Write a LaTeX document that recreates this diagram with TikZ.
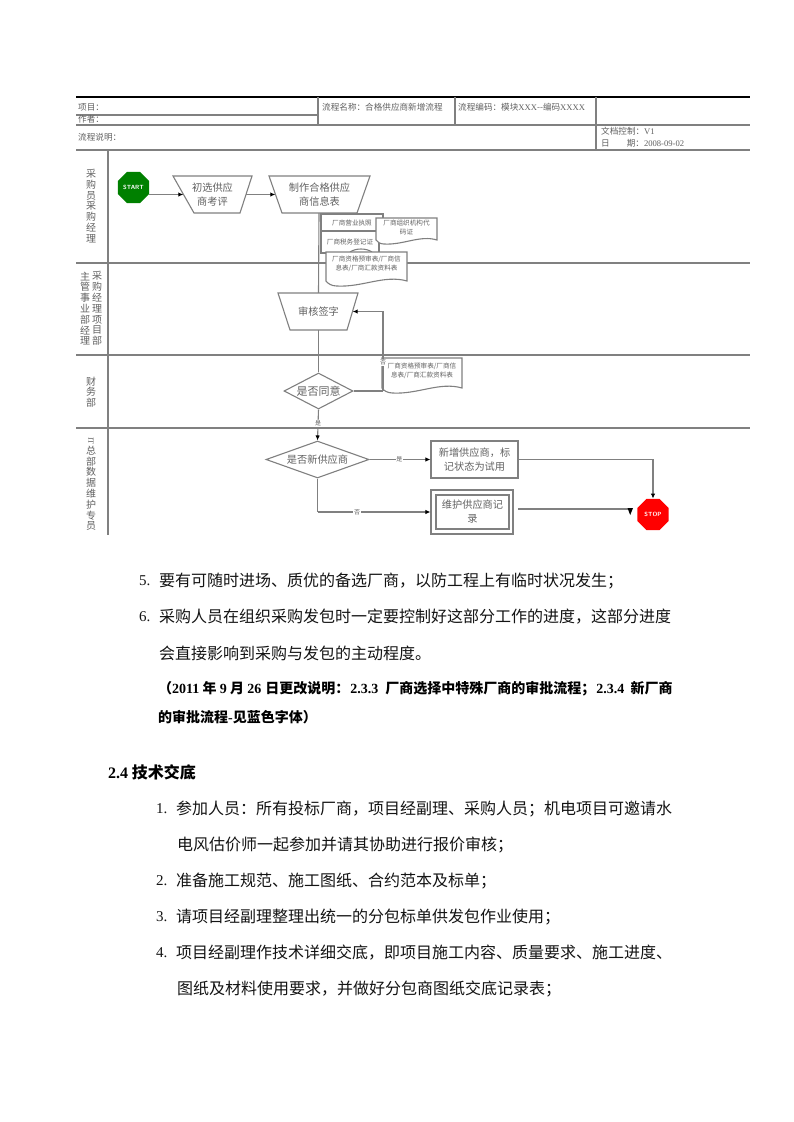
\documentclass[tikz,border=0pt]{standalone}
\usepackage{fontspec}
\setmainfont{Liberation Serif}
\newfontfamily\cjk{Noto Sans CJK SC}
\usetikzlibrary{shapes.geometric,arrows.meta}
\definecolor{ln}{gray}{0.5}
\definecolor{tx}{gray}{0.38}
\definecolor{bodytx}{gray}{0.08}
\definecolor{startgreen}{RGB}{0,128,0}
\newcommand{\fs}[1]{\fontsize{#1}{#1}\selectfont}
\newcommand{\vsl}{\raisebox{7.5pt}[0pt][0pt]{\fs{5}\rotatebox{-90}{/}}\\[-10.8pt]}
\newcommand{\wave}[5]{% x1 x2 ytop ybase dip
  \draw[shp] (#1,#3) -- (#2,#3) -- (#2,#4)
    .. controls ({#1+0.72*(#2-#1)},{#4-1.3*#5}) and ({#1+0.45*(#2-#1)},{#4+1.3*#5}) .. ({#1+0.13*(#2-#1)},{#4+#5})
    .. controls ({#1+0.07*(#2-#1)},{#4+#5}) and ({#1+0.02*(#2-#1)},{#4+0.5*#5}) .. (#1,#4) -- cycle;}
\tikzset{
  x=1pt,y=-1pt,
  rule/.style={draw=ln,line width=1.2pt},
  shp/.style={draw=ln,line width=1.1pt,fill=white},
  con/.style={draw=ln,line width=1.1pt},
  arr/.style={con,-{Latex[length=5pt,width=4.5pt,black]}},
  lab/.style={inner sep=0pt,text=tx,align=center,font=\cjk\fontsize{10.2}{14}\selectfont},
  doclab/.style={inner sep=0pt,text=tx,align=center,font=\cjk\fontsize{6.6}{8.8}\selectfont},
  hdr/.style={inner sep=0pt,anchor=west,text=tx,font=\cjk\fs{8.6}},
  edge/.style={inner sep=0.6pt,fill=white,text=tx,font=\cjk\fs{6}},
  stack/.style={inner sep=0pt,text=tx,align=center,font=\cjk\fontsize{10}{10.8}\selectfont},
  body/.style={inner sep=0pt,anchor=west,text=bodytx,font=\cjk\fs{16}},
  note/.style={inner sep=0pt,anchor=west,text=black,font=\cjk\bfseries\fs{14}},
  head/.style={inner sep=0pt,anchor=west,text=black,font=\cjk\bfseries\fs{16}},
  num/.style={inner sep=0pt,anchor=west,text=bodytx,font=\fs{15}},
  octo/.style={regular polygon,regular polygon sides=8,minimum size=34pt,inner sep=0pt,draw=none,text=white,font=\sffamily\bfseries\fs{6}},
}
\begin{document}
\begin{tikzpicture}
\useasboundingbox (0,0) rectangle (793,1122);
\fill[white] (0,0) rectangle (793,1122);
% frame
\draw[draw=black,line width=1.8pt] (76,97) -- (750,97);
\draw[rule] (76,125) -- (750,125);
\draw[rule] (76,115) -- (318,115);
\draw[rule] (318,97) -- (318,125);
\draw[rule] (455,97) -- (455,125);
\draw[rule] (596,97) -- (596,150);
\draw[rule] (76,150) -- (750,150);
\draw[rule] (108,150) -- (108,535);
\draw[rule] (76,263) -- (750,263);
\draw[rule] (76,355) -- (750,355);
\draw[rule] (76,428) -- (750,428);
% header text
\node[hdr] (h1) at (78,107) {项目：};
\node[hdr] (h2) at (78,119.5) {作者：};
\node[hdr] (h3) at (322,107) {流程名称：合格供应商新增流程};
\node[hdr] (h4) at (458,107) {流程编码：模块{\rmfamily XXX}--编码{\rmfamily XXXX}};
\node[hdr] (h5) at (78,137) {流程说明：};
\node[hdr] (h6) at (601,131) {文档控制：{\rmfamily V1}};
\node[hdr] (h7) at (601,143) {日\hspace{17pt}期：{\rmfamily 2008-09-02}};
% lane labels
\node[stack] (l1) at (91,206) {采\\购\\员\\\vsl 采\\购\\经\\理};
\node[stack] (l2a) at (97,308.5) {采\\购\\经\\理\\\vsl 项\\目\\部};
\node[stack] (l2b) at (85,308.5) {主\\管\\\vsl 事\\业\\部\\经\\理};
\node[stack] (l3) at (91,392) {财\\务\\部};
\node[stack] (l4) at (91,484) {\rotatebox{-90}{\fs{8}\rmfamily IT}\\总\\部\\数\\据\\维\\护\\专\\员};
% named flow nodes
\node[octo,fill=startgreen] (start) at (133.5,187.5) {START};
\coordinate (t1) at (214.5,194.5);
\node[inner sep=0pt,minimum width=62pt,minimum height=37pt] (t1b) at (t1) {};
\node[inner sep=0pt,minimum width=88pt,minimum height=37pt] (t2b) at (319.5,194.5) {};
\node[inner sep=0pt,minimum width=68pt,minimum height=37pt] (t3b) at (318.5,311.5) {};
\draw[con] (319,213) -- (t3b.north);
\draw[shp] (173,176) -- (252,176) -- (240,213) -- (194,213) -- cycle;
\draw[shp] (269,176) -- (370,176) -- (357,213) -- (282,213) -- cycle;
\draw[shp] (278,293) -- (358,293) -- (347,330) -- (290,330) -- cycle;
\node[lab] (t1t) at (212.5,194.5) {初选供应\\商考评};
\node[lab] (t2t) at (319.5,194.5) {制作合格供应\\商信息表};
\node[lab] (t3t) at (318.5,311.5) {审核签字};
\node[diamond,shape aspect=1.9,minimum width=69pt,minimum height=36pt,inner sep=0pt,shp] (d1) at (318.5,391) {};
\node[diamond,shape aspect=2.8,minimum width=103pt,minimum height=37pt,inner sep=0pt,shp] (d2) at (317.5,459.5) {};
\node[lab,font=\cjk\fs{11}] (d1t) at (d1) {是否同意};
\node[lab] (d2t) at (d2) {是否新供应商};
\draw[con] (t3b.south) -- (d1.north);
% documents
\node[doclab,draw=ln,line width=1.1pt,fill=white,minimum width=62pt,minimum height=17pt] (a1) at (352,222.5) {厂商营业执照};
\node[doclab,draw=ln,line width=1.1pt,fill=white,minimum width=58pt,minimum height=22pt] (a2) at (350,242) {厂商税务登记证};
\wave{376}{437}{218}{240}{4}
\node[doclab] (a3) at (406.5,227.5) {厂商组织机构代\\码证};
\draw[con] (350,252) .. controls (356,248) and (366,248) .. (372,252);
\wave{326}{407}{252}{281}{5}
\node[doclab] (a4) at (366.5,264) {厂商资格预审表/厂商信\\息表/厂商汇款资料表};
\wave{382}{462}{358}{388}{5}
\node[doclab] (a5) at (422,370.5) {厂商资格预审表/厂商信\\息表/厂商汇款资料表};
% connectors
\draw[arr] (start.east |- t1b.west) -- (t1b.west);
\draw[arr] (t1b.east) -- (t2b.west);
\coordinate (c1) at (383,391);
\draw[con] (d1.east) -- (c1);
\draw[arr] (c1) |- (t3b.east) node[pos=0.18,edge] {否};
\draw[arr] (d1.south) -- (d2.north) node[pos=0.45,edge] {是};
\node[lab,minimum width=87pt,minimum height=37pt,shp] (n1) at (474.5,459.5) {新增供应商，标\\记状态为试用};
\node[lab,minimum width=82pt,minimum height=44pt,shp] (n2) at (472,512) {};
\node[lab,minimum width=73pt,minimum height=34pt,shp] (n2i) at (472.5,512) {维护供应商记\\录};
\draw[arr] (d2.east) -- (n1.west) node[pos=0.49,edge] {是};
\coordinate (c2) at (d2.south |- n2.west);
\draw[con] (d2.south) -- (c2);
\draw[arr] (c2) -- (n2.west) node[pos=0.35,edge] {否};
\node[octo,fill=red] (stop) at (653,514.5) {STOP};
\draw[arr] (n1.east) -| (stop.north);
\coordinate (c3) at (518,509);
\coordinate (c4) at (630,509);
\draw[con] (c3) -- (c4);
\fill[black] (627.5,508) -- (633,508) -- (630.2,515) -- cycle;
% body text
\node[num] (n5) at (139,581) {5.};
\node[body] (b5) at (159,581) {要有可随时进场、质优的备选厂商，以防工程上有临时状况发生；};
\node[num] (n6) at (139,617) {6.};
\node[body] (b6) at (159,617) {采购人员在组织采购发包时一定要控制好这部分工作的进度，这部分进度};
\node[body] (b6b) at (159,653) {会直接影响到采购与发包的主动程度。};
\node[note] (m1) at (158,689) {（{\rmfamily\bfseries 2011} 年 {\rmfamily\bfseries 9} 月 {\rmfamily\bfseries 26} \hspace{1pt}日更改说明：\hspace{1pt}{\rmfamily\bfseries 2.3.3}\hspace{7pt}厂商选择中特殊厂商的审批流程；\hspace{1pt}{\rmfamily\bfseries 2.3.4}\hspace{3pt} 新厂商};
\node[note] (m2) at (158,717) {的审批流程{\rmfamily\bfseries -}见蓝色字体）};
\node[head] (sec) at (108,772) {{\rmfamily\bfseries 2.4} 技术交底};
\node[num] (p1) at (156,809) {1.};
\node[body] (b1) at (176,809) {参加人员：所有投标厂商，项目经副理、采购人员；机电项目可邀请水};
\node[body] (b1b) at (177,845) {电风估价师一起参加并请其协助进行报价审核；};
\node[num] (p2) at (156,881) {2.};
\node[body] (b2) at (176,881) {准备施工规范、施工图纸、合约范本及标单；};
\node[num] (p3) at (156,917) {3.};
\node[body] (b3) at (176,917) {请项目经副理整理出统一的分包标单供发包作业使用；};
\node[num] (p4) at (156,953) {4.};
\node[body] (b4) at (176,953) {项目经副理作技术详细交底，即项目施工内容、质量要求、施工进度、};
\node[body] (b4b) at (177,989) {图纸及材料使用要求，并做好分包商图纸交底记录表；};
\end{tikzpicture}
\end{document}
